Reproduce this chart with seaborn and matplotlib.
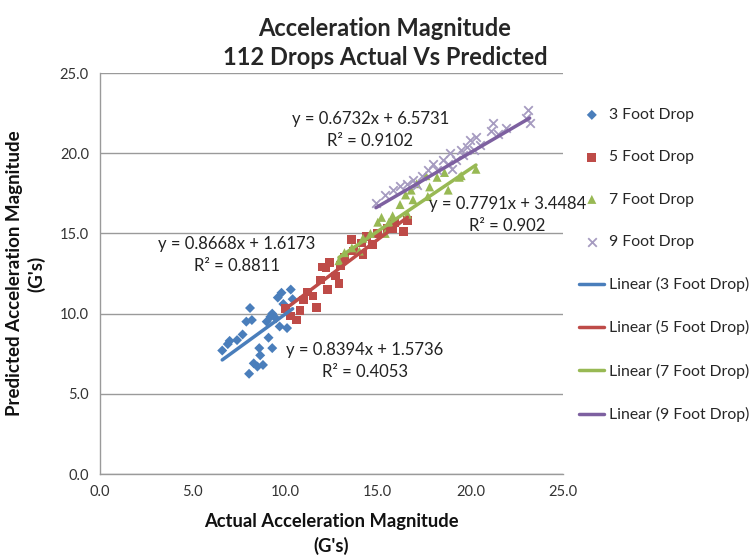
import matplotlib
matplotlib.use("Agg")
import matplotlib.pyplot as plt
import seaborn as sns
import pandas as pd
import numpy as np

# ---- data ----
x3 = [6.6, 6.9, 7.0, 7.4, 7.7, 7.9, 8.2, 8.1, 8.05, 8.3, 8.5, 8.6, 8.65, 8.8, 9.0, 9.1, 9.2, 9.3, 9.3, 9.5, 9.6, 9.7, 9.8, 10.1, 10.3, 9.9, 10.4]
y3 = [7.7, 8.1, 8.3, 8.35, 8.7, 9.5, 9.6, 10.35, 6.25, 6.9, 6.7, 7.85, 7.4, 6.8, 9.5, 8.5, 9.8, 10.0, 7.85, 9.7, 11.0, 9.2, 11.3, 9.1, 11.5, 10.6, 10.9]

x5 = [10.0, 10.3, 10.6, 10.8, 11.0, 11.2, 11.5, 11.7, 11.9, 12.0, 12.2, 12.3, 12.4, 12.7, 12.9, 13.0, 13.2, 13.6, 13.7, 14.1, 14.2, 14.4, 14.7, 15.0, 15.5, 15.8, 15.9, 16.4, 16.6]
y5 = [10.3, 9.85, 9.6, 10.2, 10.85, 11.35, 11.1, 10.4, 12.1, 12.9, 12.85, 11.5, 13.2, 12.35, 11.9, 13.0, 13.5, 14.6, 13.9, 14.4, 13.7, 14.8, 14.3, 15.0, 15.3, 15.3, 15.7, 15.1, 15.8]

x7 = [12.9, 13.2, 13.6, 14.2, 14.6, 15.0, 15.2, 15.6, 15.8, 16.2, 16.5, 16.6, 16.8, 16.9, 17.1, 17.6, 17.7, 17.8, 18.2, 18.6, 18.8, 19.4, 19.5, 20.3, 14.0, 15.4]
y7 = [13.3, 13.8, 14.1, 14.7, 15.0, 15.7, 16.0, 15.7, 16.1, 16.8, 17.4, 16.2, 17.7, 17.1, 18.1, 18.6, 17.3, 17.9, 18.5, 18.8, 17.7, 18.5, 18.6, 19.0, 13.9, 15.0]

x9 = [14.9, 15.4, 15.8, 16.2, 16.6, 16.9, 17.1, 17.4, 17.7, 18.0, 18.2, 18.5, 18.8, 18.9, 19.2, 19.5, 19.6, 19.8, 20.0, 20.2, 20.3, 20.5, 21.1, 21.2, 21.5, 21.9, 23.0, 23.1, 23.2, 19.0]
y9 = [16.9, 17.4, 17.7, 17.95, 18.1, 18.3, 18.0, 18.6, 18.95, 19.3, 18.95, 19.6, 19.3, 20.0, 19.6, 20.2, 19.9, 20.4, 20.8, 20.2, 21.0, 20.5, 21.4, 21.9, 21.2, 21.6, 22.2, 22.7, 21.9, 19.0]

series = ["3 Foot Drop", "5 Foot Drop", "7 Foot Drop", "9 Foot Drop"]
slopes = [0.8394, 0.8668, 0.7791, 0.6732]
intercepts = [1.5736, 1.6173, 3.4484, 6.5731]
r2 = ["0.4053", "0.8811", "0.902", "0.9102"]

x_ticks = [0.0, 5.0, 10.0, 15.0, 20.0, 25.0]
y_ticks = [0.0, 5.0, 10.0, 15.0, 20.0, 25.0]

# ---- styling ----
point_colors = ["#4A7EBB", "#BE4B48", "#98B954", "#A69BC0"]
line_colors = ["#4A7EBB", "#BE4B48", "#98B954", "#7D60A0"]
markers = ["D", "s", "^", "x"]
msizes = [26, 40, 42, 38]

sns.set_theme(style="white")
plt.rcParams["font.family"] = ["Lato", "DejaVu Sans"]

fig = plt.figure(figsize=(7.49, 5.59), dpi=100)
ax = fig.add_axes([0.1335, 0.152, 0.6182, 0.7174])

xs = [x3, x5, x7, x9]
ys = [y3, y5, y7, y9]
df = pd.concat([pd.DataFrame({"x": a, "y": b, "s": n}) for a, b, n in zip(xs, ys, series)])

for i, name in enumerate(series):
    sub = df[df.s == name]
    kw = dict(linewidth=1.3) if markers[i] == "x" else dict(edgecolor="none")
    sns.scatterplot(data=sub, x="x", y="y", ax=ax, color=point_colors[i],
                    marker=markers[i], s=msizes[i], label=name, zorder=3, **kw)

for i, name in enumerate(series):
    sub = df[df.s == name]
    lx = np.array([sub.x.min(), sub.x.max()])
    ly = slopes[i] * lx + intercepts[i]
    sns.lineplot(x=lx, y=ly, ax=ax, color=line_colors[i], linewidth=2.5,
                 label=f"Linear ({name})", zorder=4)

# equation labels
eq_pos = [(14.3, 7.05), (7.4, 13.65), (22.0, 16.15), (14.6, 21.45)]
for i in range(4):
    ax.text(eq_pos[i][0], eq_pos[i][1],
            f"y = {slopes[i]:.4f}x + {intercepts[i]:.4f}\nR² = {r2[i]}",
            ha="center", va="center", fontsize=12, color="#222222",
            linespacing=1.45, multialignment="center", zorder=5)

ax.set_xlim(0, 25)
ax.set_ylim(0, 25)
ax.set_xticks(x_ticks)
ax.set_yticks(y_ticks)
ax.set_xticklabels([f"{v:.1f}" for v in x_ticks], fontsize=10.5, color="#333333")
ax.set_yticklabels([f"{v:.1f}" for v in y_ticks], fontsize=10.5, color="#333333")
ax.tick_params(axis="both", length=0, pad=8)
ax.grid(axis="y", color="#9A9A9A", linewidth=1.0)
ax.grid(axis="x", visible=False)
for side in ["top", "right"]:
    ax.spines[side].set_visible(False)
for side in ["left", "bottom"]:
    ax.spines[side].set_color("#9A9A9A")
    ax.spines[side].set_linewidth(1.0)

ax.set_xlabel("Actual Acceleration Magnitude\n(G's)", fontsize=13.2, fontweight="bold",
              color="#111111", labelpad=10, linespacing=1.45)
ax.set_ylabel("Predicted Acceleration Magnitude\n(G's)", fontsize=13.5, fontweight="bold",
              color="#111111", labelpad=10, linespacing=1.35)

fig.text(0.514, 0.923, "Acceleration Magnitude\n112 Drops Actual Vs Predicted",
         ha="center", va="center", fontsize=17, fontweight="bold", linespacing=1.3)

h, l = ax.get_legend_handles_labels()
if ax.legend_:
    ax.legend_.remove()
fig.legend(h, l, loc="upper left", bbox_to_anchor=(0.765, 0.818), frameon=False,
           fontsize=11.3, labelspacing=1.8, handlelength=1.6, handletextpad=0.3,
           borderaxespad=0)

fig.savefig("out.png", dpi=100)
